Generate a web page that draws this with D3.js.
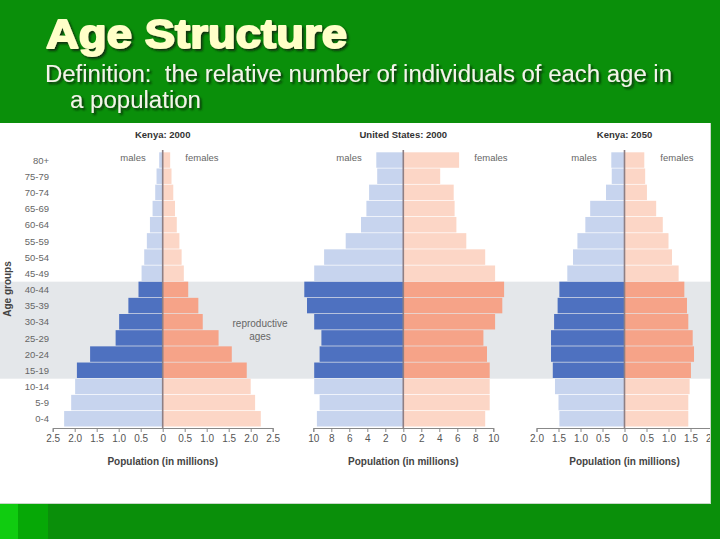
<!DOCTYPE html>
<html><head><meta charset="utf-8">
<script src="https://cdn.jsdelivr.net/npm/d3@7/dist/d3.min.js"></script>
<style>body{margin:0;background:#0a8f0a;}svg{display:block;}</style>
</head><body>
<script>
const ages = ["80+","75-79","70-74","65-69","60-64","55-59","50-54","45-49","40-44","35-39","30-34","25-29","20-24","15-19","10-14","5-9","0-4"];
const reproductive = ["40-44","35-39","30-34","25-29","20-24","15-19"];
const kenya2000Male   = [0.08,0.14,0.17,0.23,0.29,0.36,0.42,0.48,0.55,0.78,0.99,1.07,1.65,1.95,1.99,2.08,2.24];
const kenya2000Female = [0.17,0.20,0.24,0.28,0.32,0.38,0.43,0.48,0.58,0.81,0.91,1.27,1.57,1.91,2.00,2.10,2.23];
const us2000Male      = [3.0,2.9,3.8,4.1,4.7,6.4,8.8,9.9,11.0,10.7,9.9,9.1,9.3,9.9,9.9,9.3,9.6];
const us2000Female    = [6.2,4.1,5.6,5.7,5.9,7.0,9.1,10.2,11.2,11.0,10.2,8.9,9.3,9.6,9.6,9.6,9.1];
const kenya2050Male   = [0.30,0.29,0.42,0.78,0.89,1.07,1.17,1.30,1.48,1.52,1.60,1.67,1.67,1.63,1.58,1.50,1.48];
const kenya2050Female = [0.45,0.47,0.51,0.72,0.87,1.00,1.08,1.23,1.36,1.42,1.45,1.55,1.58,1.51,1.48,1.45,1.45];
const kenyaTicks2000 = [-2.5,-2,-1.5,-1,-0.5,0,0.5,1,1.5,2,2.5];
const usTicks = [-10,-8,-6,-4,-2,0,2,4,6,8,10];
const kenyaTicks2050 = [-2,-1.5,-1,-0.5,0,0.5,1,1.5,2];
const panelTitles = ["Kenya: 2000","United States: 2000","Kenya: 2050"];

const W=720,H=539;
const svg=d3.select("body").append("svg").attr("width",W).attr("height",H);
const defs=svg.append("defs");
const f=defs.append("filter").attr("id","sh").attr("x","-5%").attr("y","-20%").attr("width","115%").attr("height","150%");
f.append("feDropShadow").attr("dx",2).attr("dy",2).attr("stdDeviation",1).attr("flood-color","#0a2a0a").attr("flood-opacity",0.9);

svg.append("rect").attr("width",W).attr("height",H).attr("fill","#0a8f0a");
svg.append("rect").attr("x",0).attr("y",503).attr("width",48).attr("height",36).attr("fill","#06a806");
svg.append("rect").attr("x",0).attr("y",503).attr("width",18).attr("height",36).attr("fill","#10cc10");

svg.append("text").attr("x",46).attr("y",48).attr("fill","#ffffc8").attr("stroke","#ffffc8").attr("stroke-width",1.8)
  .attr("stroke-linejoin","round").attr("font-family","Liberation Sans, Arial, sans-serif")
  .attr("font-weight","bold").attr("font-size",40).attr("textLength",301).attr("lengthAdjust","spacingAndGlyphs")
  .attr("filter","url(#sh)").text("Age Structure");
svg.append("text").attr("x",45).attr("y",82).attr("fill","#f4f4ea").attr("font-family","Liberation Sans, Arial, sans-serif")
  .attr("font-size",23.5).attr("textLength",627).attr("lengthAdjust","spacingAndGlyphs").style("white-space","pre")
  .attr("filter","url(#sh)").text("Definition:  the relative number of individuals of each age in");
svg.append("text").attr("x",70).attr("y",108).attr("fill","#f4f4ea").attr("font-family","Liberation Sans, Arial, sans-serif")
  .attr("font-size",23.5).attr("textLength",131).attr("lengthAdjust","spacingAndGlyphs")
  .attr("filter","url(#sh)").text("a population");

// white panel
svg.append("rect").attr("x",0).attr("y",123).attr("width",711).attr("height",381).attr("fill","#c8d8c8");
svg.append("rect").attr("x",0).attr("y",123).attr("width",710).attr("height",380).attr("fill","#ffffff");

const clip=defs.append("clipPath").attr("id","pc");
clip.append("rect").attr("x",0).attr("y",123).attr("width",710).attr("height",380);
const g=svg.append("g").attr("clip-path","url(#pc)");

const y=d3.scaleBand().domain(ages).range([152.3,427.2]).padding(0);
// reproductive band
g.append("rect").attr("x",0).attr("width",710)
  .attr("y",y(reproductive[0])).attr("height",y(reproductive[reproductive.length-1])+y.bandwidth()-y(reproductive[0]))
  .attr("fill","#e4e7ea");

const font="Liberation Sans, Arial, Helvetica, sans-serif";
const panels=[
  {title:panelTitles[0],male:kenya2000Male,female:kenya2000Female,c:162.7,max:2.5,k:44,ticks:kenyaTicks2000,fmt:v=>v===0?"0":d3.format(".1f")(Math.abs(v)),mx:133,fx:202},
  {title:panelTitles[1],male:us2000Male,female:us2000Female,c:403.3,max:10,k:9,ticks:usTicks,fmt:v=>String(Math.abs(v)),mx:349,fx:491},
  {title:panelTitles[2],male:kenya2050Male,female:kenya2050Female,c:624.5,max:2,k:44,ticks:kenyaTicks2050,fmt:v=>v===0?"0":d3.format(".1f")(Math.abs(v)),mx:584,fx:677}
];
const isRep=a=>reproductive.includes(a);
panels.forEach(p=>{
  const x=d3.scaleLinear().domain([-p.max,p.max]).range([p.c-p.max*p.k,p.c+p.max*p.k]);
  const rows=ages.map((a,i)=>({a,m:p.male[i],f:p.female[i]}));
  g.selectAll(null).data(rows).enter().append("rect")
    .attr("x",d=>x(-d.m)).attr("width",d=>x(0)-x(-d.m)).attr("y",d=>y(d.a)).attr("height",y.bandwidth()-0.7)
    .attr("fill",d=>isRep(d.a)?"#4e71c0":"#c7d4ee");
  g.selectAll(null).data(rows).enter().append("rect")
    .attr("x",x(0)).attr("width",d=>x(d.f)-x(0)).attr("y",d=>y(d.a)).attr("height",y.bandwidth()-0.7)
    .attr("fill",d=>isRep(d.a)?"#f6a388":"#fcd6c6");
  g.append("line").attr("x1",x(0)).attr("x2",x(0)).attr("y1",150).attr("y2",428)
    .attr("stroke","#8e7f84").attr("stroke-width",1.6);
  const ax=g.append("g").attr("transform","translate(0,428)")
    .call(d3.axisBottom(x).tickValues(p.ticks).tickFormat(p.fmt).tickSize(4).tickPadding(3));
  ax.select(".domain").attr("stroke","#888");
  ax.selectAll(".tick line").attr("stroke","#888");
  ax.selectAll("text").attr("fill","#555").attr("font-family",font).attr("font-size",10);
  g.append("text").attr("x",p.c).attr("y",138).attr("text-anchor","middle").attr("font-family",font)
    .attr("font-weight","bold").attr("font-size",9.5).attr("fill","#333").text(p.title);
  g.append("text").attr("x",p.mx).attr("y",161).attr("text-anchor","middle").attr("font-family",font)
    .attr("font-size",9.5).attr("fill","#666").text("males");
  g.append("text").attr("x",p.fx).attr("y",161).attr("text-anchor","middle").attr("font-family",font)
    .attr("font-size",9.5).attr("fill","#666").text("females");
  g.append("text").attr("x",p.c).attr("y",465).attr("text-anchor","middle").attr("font-family",font)
    .attr("font-weight","bold").attr("font-size",10).attr("fill","#444").text("Population (in millions)");
});

// age labels
g.selectAll(null).data(ages).enter().append("text")
  .attr("x",49).attr("y",d=>y(d)+y.bandwidth()/2+3.3).attr("text-anchor","end")
  .attr("font-family",font).attr("font-size",9.5).attr("fill","#666").text(d=>d);
g.append("text").attr("transform","translate(11,289) rotate(-90)").attr("text-anchor","middle")
  .attr("font-family",font).attr("font-weight","bold").attr("font-size",10).attr("fill","#444").text("Age groups");
g.append("text").attr("x",260).attr("y",327).attr("text-anchor","middle").attr("font-family",font)
  .attr("font-size",10).attr("fill","#666").text("reproductive");
g.append("text").attr("x",260).attr("y",340).attr("text-anchor","middle").attr("font-family",font)
  .attr("font-size",10).attr("fill","#666").text("ages");
</script>
</body></html>
